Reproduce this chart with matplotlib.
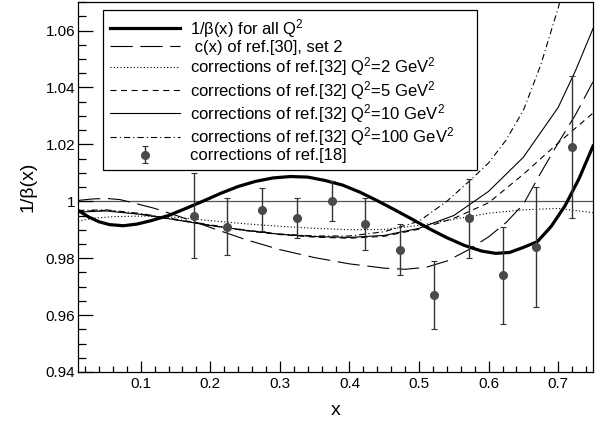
import matplotlib
matplotlib.use("Agg")
import matplotlib.pyplot as plt
from matplotlib.ticker import MultipleLocator

plt.rcParams['font.family'] = ['Liberation Sans', 'DejaVu Sans']
plt.rcParams['mathtext.fontset'] = 'custom'
plt.rcParams['mathtext.rm'] = 'Liberation Sans'
plt.rcParams['mathtext.it'] = 'Liberation Sans:italic'
plt.rcParams['lines.scale_dashes'] = False

# 1/beta(x), valid for all Q^2
x_beta = [0.010, 0.025, 0.040, 0.055, 0.075, 0.095, 0.115, 0.140, 0.165, 0.190,
          0.215, 0.240, 0.265, 0.290, 0.315, 0.340, 0.365, 0.390, 0.415, 0.440,
          0.465, 0.490, 0.515, 0.540, 0.565, 0.590, 0.610, 0.630, 0.650, 0.670,
          0.690, 0.710, 0.730, 0.750]
y_beta = [0.9968, 0.9945, 0.9928, 0.9918, 0.9914, 0.9920, 0.9932, 0.9950, 0.9975, 1.0001,
          1.0028, 1.0052, 1.0070, 1.0082, 1.0087, 1.0085, 1.0073, 1.0057, 1.0032, 1.0002,
          0.9970, 0.9937, 0.9903, 0.9872, 0.9845, 0.9825, 0.9817, 0.9820, 0.9838, 0.9858,
          0.9912, 0.9985, 1.0080, 1.0194]

# c(x) of ref.[30], set 2
x_cx = [0.010, 0.030, 0.050, 0.070, 0.090, 0.120, 0.155, 0.200, 0.250, 0.300, 0.350,
        0.400, 0.450, 0.480, 0.510, 0.540, 0.570, 0.600, 0.625, 0.650, 0.675, 0.700,
        0.725, 0.750]
y_cx = [1.0003, 1.0008, 1.0010, 1.0006, 0.9994, 0.9975, 0.9947, 0.9908, 0.9866, 0.9830, 0.9802,
        0.9780, 0.9765, 0.9761, 0.9768, 0.9790, 0.9828, 0.9875, 0.9925, 0.9990, 1.0100, 1.0205,
        1.0305, 1.0420]

# corrections of ref.[32]
x_q2 = [0.010, 0.030, 0.060, 0.100, 0.150, 0.200, 0.250, 0.300, 0.350, 0.400, 0.450,
        0.500, 0.550, 0.600, 0.650, 0.700, 0.750]
y_q2 = [0.9930, 0.9940, 0.9946, 0.9948, 0.9944, 0.9932, 0.9921, 0.9912, 0.9905, 0.9900, 0.9901,
        0.9915, 0.9937, 0.9958, 0.9970, 0.9975, 0.9960]

x_q5 = [0.010, 0.050, 0.100, 0.150, 0.200, 0.250, 0.300, 0.350, 0.400, 0.450, 0.500,
        0.550, 0.600, 0.650, 0.700, 0.750]
y_q5 = [0.9965, 0.9968, 0.9955, 0.9935, 0.9915, 0.9897, 0.9883, 0.9874, 0.9870, 0.9877, 0.9902,
        0.9940, 0.9995, 1.0095, 1.0205, 1.0310]

x_q10 = [0.010, 0.050, 0.100, 0.150, 0.200, 0.250, 0.300, 0.350, 0.400, 0.450, 0.500,
         0.550, 0.600, 0.650, 0.700, 0.725, 0.750]
y_q10 = [0.9962, 0.9966, 0.9954, 0.9935, 0.9915, 0.9898, 0.9884, 0.9876, 0.9873, 0.9880, 0.9905,
         0.9950, 1.0035, 1.0155, 1.0330, 1.0460, 1.0607]

x_q100 = [0.010, 0.050, 0.100, 0.150, 0.200, 0.250, 0.300, 0.350, 0.400, 0.450, 0.500,
          0.540, 0.575, 0.600, 0.625, 0.650, 0.675, 0.700, 0.720]
y_q100 = [0.9968, 0.9970, 0.9957, 0.9937, 0.9917, 0.9899, 0.9885, 0.9878, 0.9878, 0.9893, 0.9930,
          1.0000, 1.0077, 1.0135, 1.0215, 1.0320, 1.0480, 1.0680, 1.0860]

# corrections of ref.[18]
x_pts = [0.177, 0.224, 0.274, 0.325, 0.375, 0.422, 0.472, 0.522, 0.572, 0.620, 0.668, 0.720]
y_pts = [0.995, 0.991, 0.997, 0.994, 1.000, 0.992, 0.983, 0.967, 0.994, 0.974, 0.984, 1.019]
e_pts = [0.015, 0.010, 0.0075, 0.007, 0.007, 0.009, 0.009, 0.012, 0.014, 0.017, 0.021, 0.025]

fig = plt.figure(figsize=(6.01, 4.21), dpi=100)
ax = fig.add_axes([0.13, 0.1164, 0.8567, 0.8786])

ax.axhline(1.0, color='#555555', lw=0.9, zorder=1)

ax.plot(x_beta, y_beta, color='black', lw=2.3, label=r'1/β(x) for all Q$^2$')
ax.plot(x_cx, y_cx, color='black', lw=0.8, linestyle=(0, (16, 5.5)),
        label=' c(x) of ref.[30], set 2')
ax.plot(x_q2, y_q2, color='black', lw=0.8, linestyle=(0, (0.8, 1.6)),
        label=r'corrections of ref.[32] Q$^2$=2 GeV$^2$')
ax.plot(x_q5, y_q5, color='black', lw=0.8, linestyle=(0, (4.3, 3.3)),
        label=r'corrections of ref.[32] Q$^2$=5 GeV$^2$')
ax.plot(x_q10, y_q10, color='black', lw=0.8,
        label=r'corrections of ref.[32] Q$^2$=10 GeV$^2$')
ax.plot(x_q100, y_q100, color='black', lw=0.8, linestyle=(0, (4.5, 2.2, 0.8, 2.2)),
        label=r'corrections of ref.[32] Q$^2$=100 GeV$^2$')
ax.errorbar(x_pts, y_pts, yerr=e_pts, fmt='o', color='#4a4a4a', ecolor='#333333',
            markersize=5.5, elinewidth=1.0, capsize=2, capthick=0.8,
            label='corrections of ref.[18]')

ax.set_xlim(0.01, 0.75)
ax.set_ylim(0.94, 1.07)

ax.xaxis.set_minor_locator(MultipleLocator(0.02))
ax.yaxis.set_minor_locator(MultipleLocator(0.005))
ax.set_yticks([0.94, 0.96, 0.98, 1.0, 1.02, 1.04, 1.06])
ax.set_yticklabels(['0.94', '0.96', '0.98', '1', '1.02', '1.04', '1.06'])
ax.set_xticks([0.1, 0.2, 0.3, 0.4, 0.5, 0.6, 0.7])
ax.set_xticklabels(['0.1', '0.2', '0.3', '0.4', '0.5', '0.6', '0.7'])

ax.tick_params(axis='both', which='both', direction='in', top=False, right=False,
               width=0.9, labelsize=11)
ax.tick_params(axis='y', which='major', length=10.8, pad=2)
ax.tick_params(axis='y', which='minor', length=5.5)
ax.tick_params(axis='x', which='major', length=7.7, pad=3.5)
ax.tick_params(axis='x', which='minor', length=4.3)
for sp in ax.spines.values():
    sp.set_linewidth(0.9)

ax.set_xlabel('x', fontsize=14, labelpad=8)
ax.set_ylabel('1/β(x)', fontsize=14, labelpad=7)

leg = ax.legend(loc='upper left', bbox_to_anchor=(0.0485, 0.557, 0.7265, 0.421),
                mode='expand', fontsize=12,
                frameon=True, fancybox=False, edgecolor='black', framealpha=1,
                handlelength=4.2, handletextpad=0.6, labelspacing=0.02,
                borderpad=0.4, borderaxespad=0)
leg.get_frame().set_linewidth(0.9)

fig.savefig('out.png', dpi=100)
